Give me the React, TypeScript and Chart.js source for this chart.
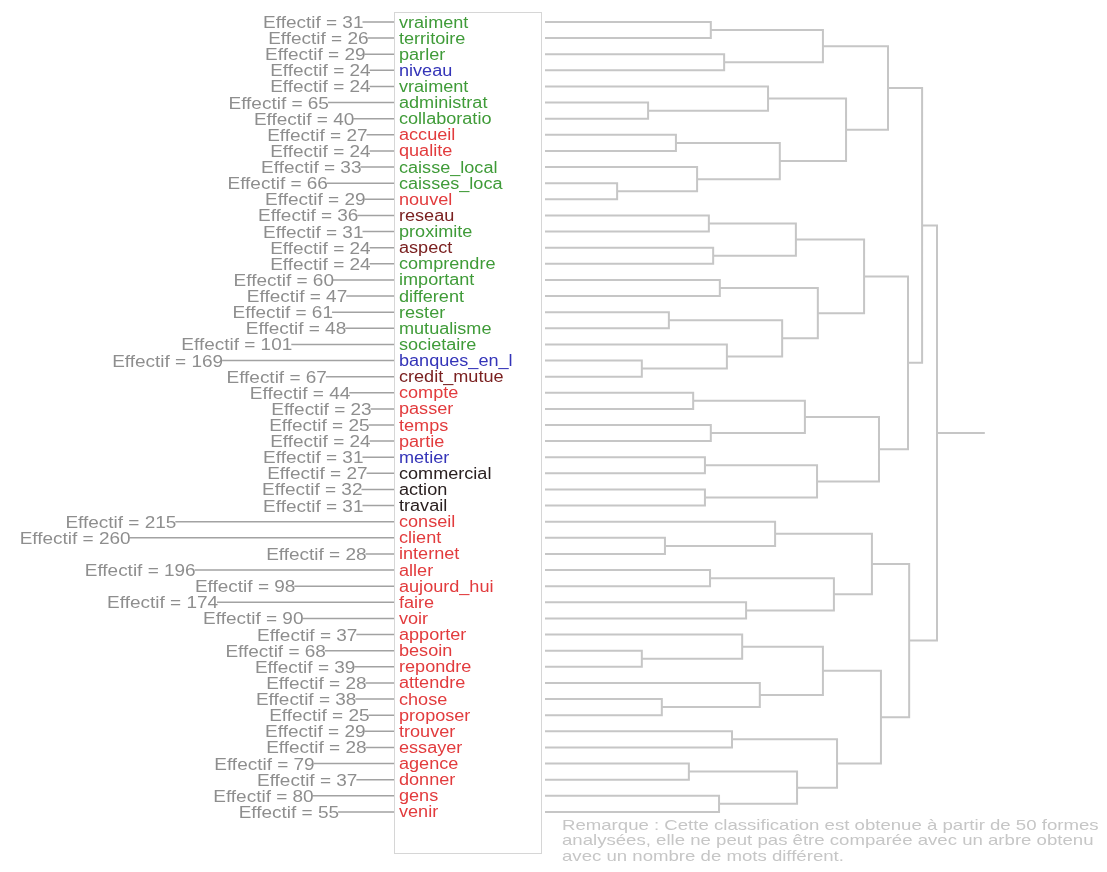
import React, { useEffect, useRef } from "react";
import { Chart, registerables } from "chart.js";

Chart.register(...registerables);

// ---------- data ----------
const leafWords = [
  "vraiment", "territoire", "parler", "niveau", "vraiment", "administrat", "collaboratio",
  "accueil", "qualite", "caisse_local", "caisses_loca", "nouvel", "reseau", "proximite",
  "aspect", "comprendre", "important", "different", "rester", "mutualisme", "societaire",
  "banques_en_l", "credit_mutue", "compte", "passer", "temps", "partie", "metier",
  "commercial", "action", "travail", "conseil", "client", "internet", "aller",
  "aujourd_hui", "faire", "voir", "apporter", "besoin", "repondre", "attendre", "chose",
  "proposer", "trouver", "essayer", "agence", "donner", "gens", "venir",
];

const leafEffectifs = [
  31, 26, 29, 24, 24, 65, 40, 27, 24, 33, 66, 29, 36, 31, 24, 24, 60, 47, 61, 48, 101, 169,
  67, 44, 23, 25, 24, 31, 27, 32, 31, 215, 260, 28, 196, 98, 174, 90, 37, 68, 39, 28, 38,
  25, 29, 28, 79, 37, 80, 55,
];

// g = green, r = red, b = blue, d = dark red, k = near black
const leafClasses = [
  "g", "g", "g", "b", "g", "g", "g", "r", "r", "g", "g", "r", "d", "g", "d", "g", "g", "g",
  "g", "g", "g", "b", "d", "r", "r", "r", "r", "b", "k", "k", "k", "r", "r", "r", "r", "r",
  "r", "r", "r", "r", "r", "r", "r", "r", "r", "r", "r", "r", "r", "r",
];

// hclust-style merges: negative = leaf (-(index+1)), positive = earlier merge number (1-based)
const mergeLeft = [
  -1, -3, 1, -6, -5, -8, -11, -10, 6, 5, 3, -13, -15, 12, -17, -19, -22, -21, 16, 15, 14,
  -24, -26, 22, -28, -30, 25, 24, 21, 11, -33, -32, -35, -37, 33, 32, -40, -39, -43, -42,
  38, -45, -47, -49, 43, 42, 41, 36, 30,
];
const mergeRight = [
  -2, -4, 2, -7, 4, -9, -12, 7, 8, 9, 10, -14, -16, 13, -18, -20, -23, 17, 18, 19, 20,
  -25, -27, 23, -29, -31, 26, 27, 28, 29, -34, 31, -36, -38, 34, 35, -41, 37, -44, 39,
  40, -46, -48, -50, 44, 45, 46, 47, 48,
];
const mergeHeights = [
  42.3, 45.7, 70.9, 26.3, 56.9, 33.4, 18.4, 38.8, 59.9, 76.8, 87.5, 41.8, 42.9, 64.0, 44.6,
  31.6, 24.7, 46.4, 60.5, 69.6, 81.4, 37.8, 42.3, 66.3, 40.8, 40.8, 69.4, 85.2, 92.6, 96.2,
  30.6, 58.7, 42.1, 51.3, 73.7, 83.4, 24.7, 50.3, 29.8, 54.8, 70.9, 47.7, 36.7, 44.4, 64.3,
  74.5, 85.7, 92.9, 100,
];
const rootStubEnd = 112.2;

const remarkLines = [
  "Remarque : Cette classification est obtenue à partir de 50 formes",
  "analysées, elle ne peut pas être comparée avec un arbre obtenu",
  "avec un nombre de mots différent.",
];

// ---------- layout / style ----------
const W = 1091;
const H = 856;
const BOX_LEFT_PX = 386;
const EFF_PX_PER_UNIT = 1.017;
const DENDRO_LEFT_PX = 537;
const DENDRO_PX_PER_UNIT = 3.92;
const ROW0_PX = 14;
const ROW_STEP_PX = 16.12;

const classColors: Record<string, string> = {
  g: "#3f9b38",
  r: "#e23b3d",
  b: "#3434b8",
  d: "#7a2020",
  k: "#2a2020",
};

const FONT = '"Liberation Sans", Arial, sans-serif';

function buildDendro() {
  const nodeY: number[] = [];
  const nodeH: number[] = [];
  const pos = (id: number) =>
    id < 0 ? { y: -id - 1, h: 0 } : { y: nodeY[id - 1], h: nodeH[id - 1] };
  const pts: any[] = [];
  for (let i = 0; i < mergeLeft.length; i++) {
    const a = pos(mergeLeft[i]);
    const b = pos(mergeRight[i]);
    const h = mergeHeights[i];
    nodeY.push((a.y + b.y) / 2);
    nodeH.push(h);
    pts.push({ x: a.h, y: a.y }, { x: h, y: a.y }, { x: h, y: b.y }, { x: b.h, y: b.y }, { x: null, y: null });
  }
  const rootY = nodeY[nodeY.length - 1];
  const rootH = nodeH[nodeH.length - 1];
  pts.push({ x: rootH, y: rootY }, { x: rootStubEnd, y: rootY });
  return pts;
}

function buildEffectifLines() {
  const pts: any[] = [];
  leafEffectifs.forEach((e, i) => {
    pts.push({ x: e, y: i }, { x: 0, y: i }, { x: null, y: null });
  });
  return pts;
}

function drawText(ctx: CanvasRenderingContext2D, text: string, x: number, y: number, align: CanvasTextAlign, sx: number) {
  ctx.save();
  ctx.translate(x, y);
  ctx.scale(sx, 1);
  ctx.textAlign = align;
  ctx.textBaseline = "alphabetic";
  ctx.fillText(text, 0, 0);
  ctx.restore();
}

const textPlugin = {
  id: "dendroText",
  beforeDatasetsDraw(chart: any) {
    const { ctx } = chart;
    const xs = chart.scales.x;
    const xd = chart.scales.xd;
    const ys = chart.scales.y;
    const left = Math.round(xs.getPixelForValue(0)) + 0.5;
    const right = Math.round(xd.getPixelForValue(0) - 4) + 0.5;
    const top = Math.round(ys.getPixelForValue(0) - 10) + 0.5;
    const bottom = Math.round(ys.getPixelForValue(leafWords.length - 1) + 41) + 0.5;
    ctx.save();
    ctx.strokeStyle = "#d6d6d6";
    ctx.lineWidth = 1;
    ctx.strokeRect(left, top, right - left, bottom - top);
    ctx.restore();
  },
  afterDatasetsDraw(chart: any) {
    const { ctx } = chart;
    const xs = chart.scales.x;
    const xd = chart.scales.xd;
    const ys = chart.scales.y;
    ctx.save();
    // effectif labels
    ctx.font = `16.5px ${FONT}`;
    ctx.fillStyle = "#8e8e8e";
    leafEffectifs.forEach((e, i) => {
      drawText(ctx, `Effectif = ${e}`, xs.getPixelForValue(e) + 1, ys.getPixelForValue(i) + 6, "right", 1.15);
    });
    // words
    ctx.font = `16px ${FONT}`;
    leafWords.forEach((w, i) => {
      ctx.fillStyle = classColors[leafClasses[i]];
      drawText(ctx, w, xs.getPixelForValue(0) + 5, ys.getPixelForValue(i) + 5.5, "left", 1.13);
    });
    // remark
    ctx.font = `15px ${FONT}`;
    ctx.fillStyle = "#c6c6c6";
    const baseY = ys.getPixelForValue(leafWords.length - 1);
    remarkLines.forEach((line, k) => {
      drawText(ctx, line, xd.getPixelForValue(0) + 17, baseY + 18 + k * 15.5, "left", 1.24);
    });
    ctx.restore();
  },
};

export default function App() {
  const canvasRef = useRef<HTMLCanvasElement | null>(null);

  useEffect(() => {
    const canvas = canvasRef.current;
    if (!canvas) return;
    const effSpan = W / EFF_PX_PER_UNIT;
    const effMax = BOX_LEFT_PX / EFF_PX_PER_UNIT;
    const chart = new Chart(canvas, {
      type: "scatter",
      data: {
        datasets: [
          {
            label: "effectif",
            data: buildEffectifLines(),
            xAxisID: "x",
            yAxisID: "y",
            showLine: true,
            spanGaps: false,
            borderColor: "#a2a2a2",
            borderWidth: 1.5,
            pointRadius: 0,
            pointHoverRadius: 0,
          },
          {
            label: "dendro",
            data: buildDendro(),
            xAxisID: "xd",
            yAxisID: "y",
            showLine: true,
            spanGaps: false,
            borderColor: "#c6c6c6",
            borderWidth: 2,
            pointRadius: 0,
            pointHoverRadius: 0,
          },
        ],
      },
      options: {
        responsive: false,
        animation: false,
        events: [],
        layout: { padding: 0 },
        plugins: { legend: { display: false }, tooltip: { enabled: false } },
        scales: {
          x: {
            type: "linear",
            reverse: true,
            min: effMax - effSpan,
            max: effMax,
            display: false,
          },
          xd: {
            type: "linear",
            min: -DENDRO_LEFT_PX / DENDRO_PX_PER_UNIT,
            max: (W - DENDRO_LEFT_PX) / DENDRO_PX_PER_UNIT,
            display: false,
          },
          y: {
            type: "linear",
            reverse: true,
            min: -ROW0_PX / ROW_STEP_PX,
            max: (H - ROW0_PX) / ROW_STEP_PX,
            display: false,
          },
        },
      },
      plugins: [textPlugin],
    });
    return () => chart.destroy();
  }, []);

  return (
    <div>
      <canvas ref={canvasRef} width={W} height={H} style={{ display: "block" }} />
    </div>
  );
}
